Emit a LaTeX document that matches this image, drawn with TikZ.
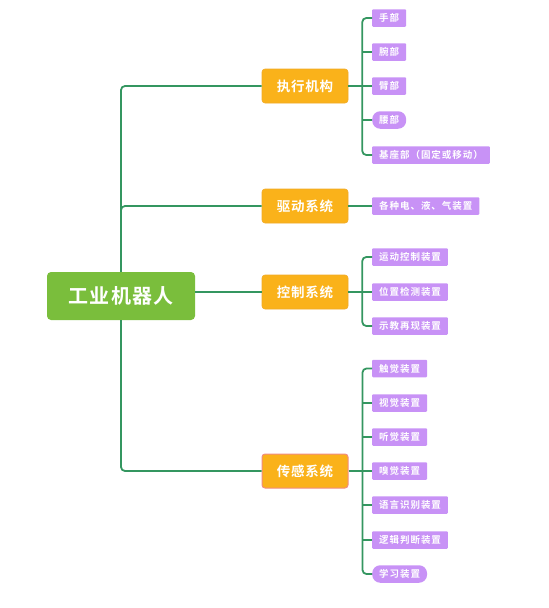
\documentclass[tikz,border=0pt]{standalone}
\usepackage{fontspec}
\newfontfamily\cjkroot{Noto Sans CJK SC}[BoldFont={Noto Sans CJK SC Bold},LetterSpace=6]
\newfontfamily\cjkmain{Noto Sans CJK SC}[BoldFont={Noto Sans CJK SC Bold},LetterSpace=5]
\newfontfamily\cjkleaf{Noto Sans CJK SC}[BoldFont={Noto Sans CJK SC Bold},LetterSpace=10]
\usetikzlibrary{calc}
\definecolor{rootgreen}{RGB}{122,190,60}
\definecolor{mainorange}{RGB}{250,178,26}
\definecolor{orangeedge}{RGB}{240,170,40}
\definecolor{salmon}{RGB}{240,140,130}
\definecolor{leafpurple}{RGB}{200,146,246}
\definecolor{linegreen}{RGB}{52,150,96}
\tikzset{
  rootbox/.style={fill=rootgreen, text=white, rounded corners=4pt, minimum width=148pt, minimum height=48pt, inner sep=0pt, font=\cjkroot\bfseries\fontsize{20}{23}\selectfont},
  mainbox/.style={fill=mainorange, draw=orangeedge, line width=0.6pt, text=white, rounded corners=3pt, minimum width=86pt, minimum height=34pt, inner sep=0pt, font=\cjkmain\bfseries\fontsize{13.5}{16}\selectfont},
  leafbox/.style={fill=leafpurple, text=white, rounded corners=1pt, anchor=west, minimum height=17.5pt, inner xsep=7pt, inner ysep=0pt, font=\cjkleaf\bfseries\fontsize{9.5}{11}\selectfont},
  pill/.style={rounded corners=8pt},
  conn/.style={draw=linegreen, line width=1.8pt, rounded corners=4pt},
}
\begin{document}
\begin{tikzpicture}[x=1pt,y=-1pt]
\useasboundingbox (0,0) rectangle (549,608);
\node[rootbox] (root) at (121,296) {工业机器人};
\node[mainbox] (exec) at (305,86) {执行机构};
\node[mainbox] (drive) at (305,206) {驱动系统};
\node[mainbox] (ctrl) at (305,292) {控制系统};
\node[mainbox, draw=salmon, line width=1pt] (sense) at (305,471) {传感系统};
% leaves of exec
\node[leafbox] (a1) at (372,18) {手部};
\node[leafbox] (a2) at (372,52) {腕部};
\node[leafbox] (a3) at (372,86) {臂部};
\node[leafbox, pill] (a4) at (372,120) {腰部};
\node[leafbox] (a5) at (372,155) {基座部（固定或移动）};
% drive
\node[leafbox] (b1) at (372,206) {各种电、液、气装置};
% control
\node[leafbox] (c1) at (372,257) {运动控制装置};
\node[leafbox] (c2) at (372,292) {位置检测装置};
\node[leafbox] (c3) at (372,326) {示教再现装置};
% sensing
\node[leafbox] (d1) at (372,368.5) {触觉装置};
\node[leafbox] (d2) at (372,403) {视觉装置};
\node[leafbox] (d3) at (372,437) {听觉装置};
\node[leafbox] (d4) at (372,471) {嗅觉装置};
\node[leafbox] (d5) at (372,505) {语言识别装置};
\node[leafbox] (d6) at (372,540) {逻辑判断装置};
\node[leafbox, pill] (d7) at (372,574) {学习装置};
% trunk connectors
\draw[conn] (root.north) |- (exec.west);
\draw[conn] (root.north) |- (drive.west);
\draw[conn] (root.east |- ctrl.west) -- (ctrl.west);
\draw[conn] (root.south) |- (sense.west);
% bus coordinates
\coordinate (ea) at ($(exec.east)+(14,0)$);
\coordinate (ec) at ($(ctrl.east)+(14,0)$);
\coordinate (ed) at ($(sense.east)+(14,0)$);
% exec bus
\draw[conn] (exec.east) -- (a3.west);
\draw[conn] (a1.west) -| (ea |- a5.west) -- (a5.west);
\foreach \n in {a2,a4} \draw[conn] (ea |- \n.west) -- (\n.west);
% drive
\draw[conn] (drive.east) -- (b1.west);
% control bus
\draw[conn] (ctrl.east) -- (c2.west);
\draw[conn] (c1.west) -| (ec |- c3.west) -- (c3.west);
% sensing bus
\draw[conn] (sense.east) -- (d4.west);
\draw[conn] (d1.west) -| (ed |- d7.west) -- (d7.west);
\foreach \n in {d2,d3,d5,d6} \draw[conn] (ed |- \n.west) -- (\n.west);
\end{tikzpicture}
\end{document}
